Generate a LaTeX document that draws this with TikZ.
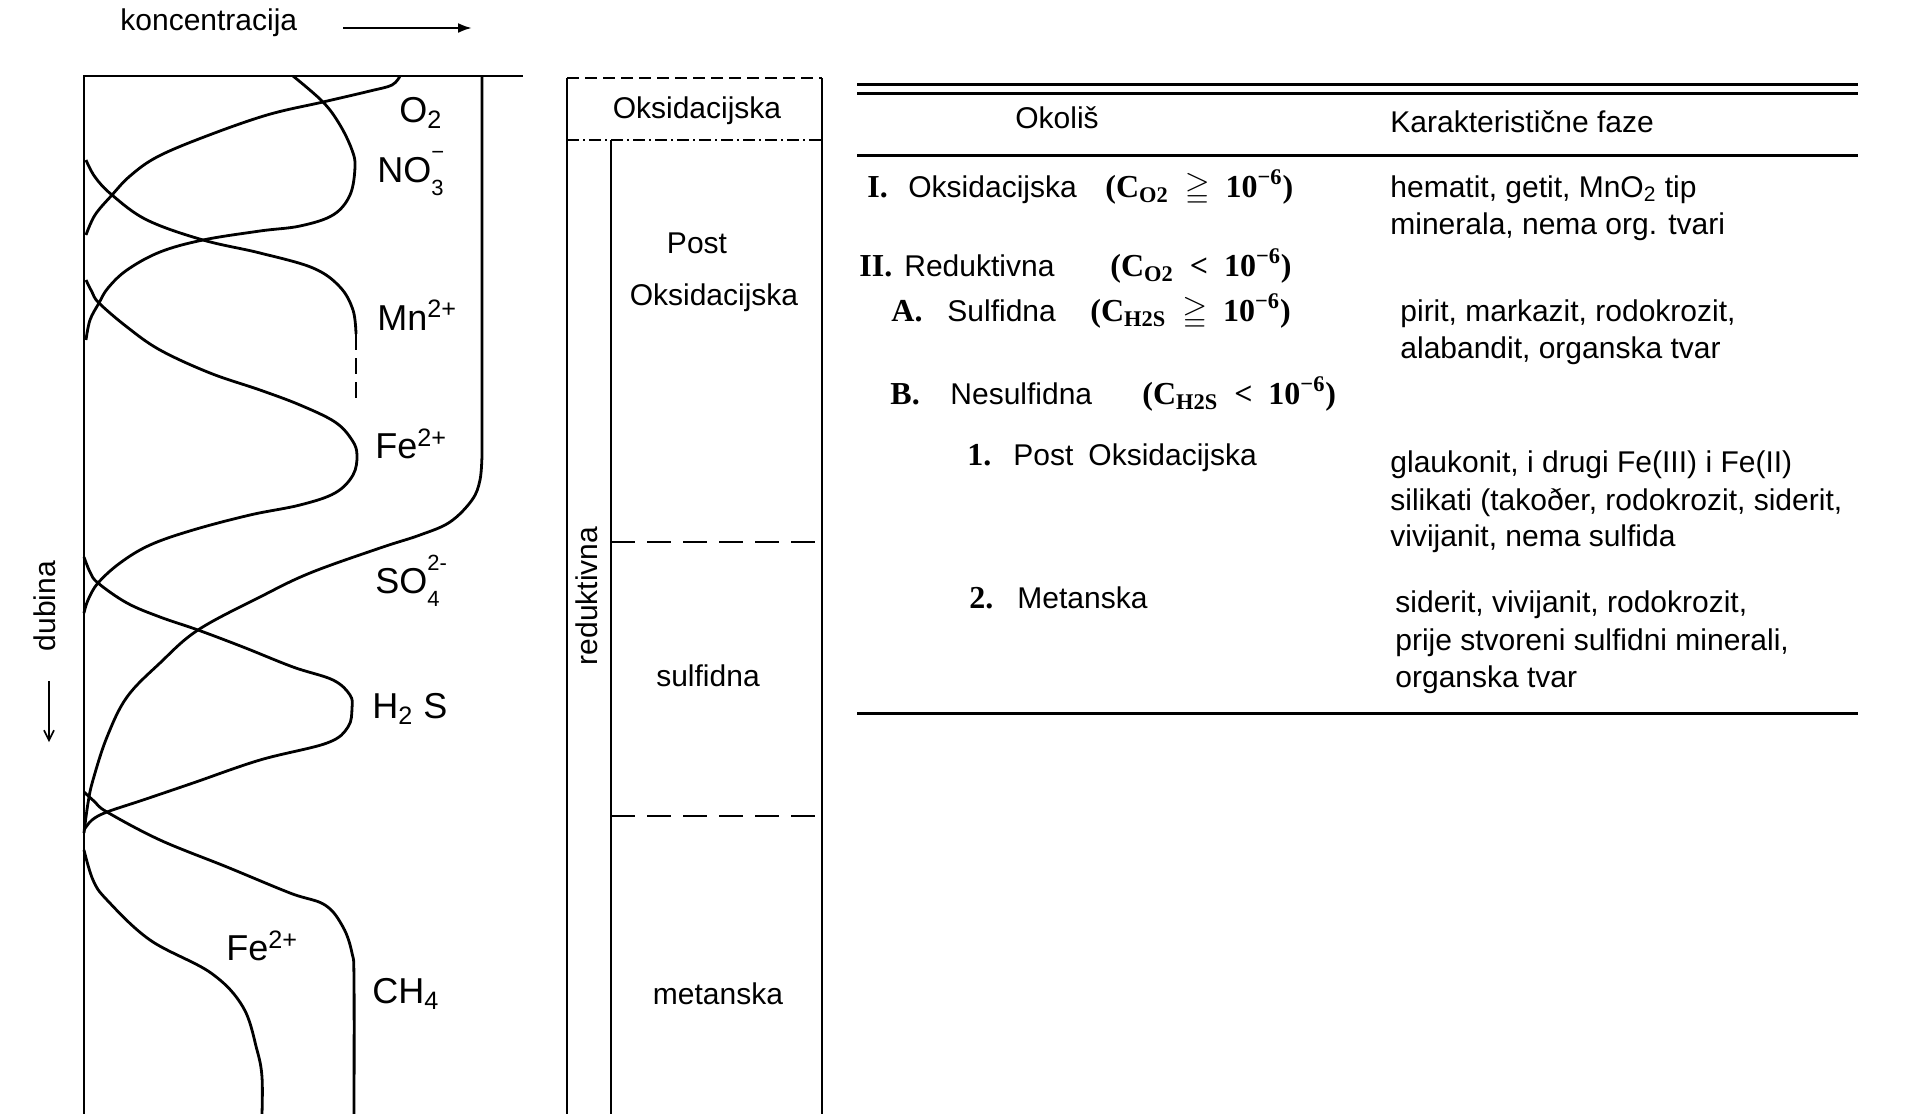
\documentclass[tikz,border=0pt]{standalone}
\usepackage{fontspec}
\usepackage{amssymb}
\setmainfont{Liberation Sans}
\newfontfamily\tnr{Liberation Serif}
\usetikzlibrary{arrows.meta}

\newcommand\chemsup[1]{\rlap{\raisebox{0.62em}{\fontsize{11}{11}\selectfont #1}}}
\newcommand\chemsub[1]{\raisebox{-0.38em}{\fontsize{11}{11}\selectfont #1}}

\begin{document}
\begin{tikzpicture}[x=0.5pt,y=-0.5pt,
    conc/.style={line width=1.4pt,line join=round},
    chem/.style={anchor=west,inner sep=0pt,font=\fontsize{18}{20}\selectfont},
    txt/.style={anchor=base west,inner sep=0pt,font=\fontsize{15}{18.5}\selectfont},
    mid/.style={inner sep=0pt,font=\fontsize{15}{18.5}\selectfont},
    num/.style={anchor=base west,inner sep=0pt,font=\fontsize{16}{18}\tnr\bfseries},
    rule/.style={line width=1.5pt}]

\useasboundingbox (0,0) rectangle (1907,1114);

% concentration profiles
\node[txt] (konc) at (120,30) {koncentracija};
\coordinate (konc-a) at (343,28);
\coordinate (konc-b) at (472,28);
\draw[line width=1.2pt,-{Latex[length=7pt,width=5pt]}] (konc-a) -- (konc-b);

\node[mid,rotate=90] (dubina) at (45,606) {dubina};
\coordinate (dub-a) at (49,681);
\coordinate (dub-b) at (49,742);
\draw[line width=0.8pt,-{Straight Barb[length=5pt,width=5pt]}] (dub-a) -- (dub-b);

\draw[line width=1pt] (84,1114) -- (84,76) -- (523,76);

% O2
\draw[conc] plot[smooth,tension=0.6] coordinates {(400,76) (392,85) (370,91) (323,102) (267,115) (204,137) (157,157) (130,176) (112,195) (95,215) (86,235)};
% NO3
\draw[conc] plot[smooth,tension=0.6] coordinates {(293,76) (323,102) (340,125) (352,150) (355,167) (350,195) (333,215) (300,226) (260,231) (203,240) (160,252) (127,270) (108,288) (99,303) (90,320) (86,340)};
% Mn
\draw[conc] plot[smooth,tension=0.6] coordinates {(86,160) (95,177) (112,195) (147,220) (203,240) (260,253) (313,268) (340,287) (353,310) (356,334)};
\draw[conc,dash pattern=on 8pt off 4pt] (356,334) -- (356,398);
% Fe
\draw[conc] plot[smooth,tension=0.6] coordinates {(86,280) (92,292) (99,303) (127,327) (160,350) (210,373) (260,390) (300,405) (335,422) (352,440) (357,455) (353,475) (335,493) (300,505) (250,515) (193,530) (150,545) (120,563) (98,583) (88,600) (84,613)};
% SO4
\draw[conc] (482,76) -- (482,455) plot[smooth,tension=0.6] coordinates {(482,455) (480,480) (472,500) (450,522) (420,535) (380,548) (310,573) (260,597) (198,630) (160,663) (127,697) (107,737) (93,780) (88,803) (84,833)};
% H2S
\draw[conc] plot[smooth,tension=0.6] coordinates {(84,557) (90,572) (98,583) (127,603) (160,617) (198,630) (243,647) (293,667) (333,680) (350,695) (352,708) (348,727) (327,743) (260,760) (193,783) (143,800) (107,812) (92,820) (84,830)};
% CH4
\draw[conc] plot[smooth,tension=0.6] coordinates {(84,792) (95,802) (107,812) (160,840) (227,867) (290,893) (325,905) (343,927) (352,953) (354,980) (354,1114)};
% Fe lower
\draw[conc] plot[smooth,tension=0.6] coordinates {(84,850) (93,880) (107,900) (150,940) (211,973) (243,1007) (257,1050) (262,1077) (262,1114)};

\node[chem] (o2) at (399,113) {O\textsubscript{2}};
\node[chem] (no3) at (377,174) {NO\chemsup{−}\chemsub{3}};
\node[chem] (mn) at (377,315) {Mn\textsuperscript{2+}};
\node[chem] (fe) at (375,444) {Fe\textsuperscript{2+}};
\node[chem] (so4) at (375,581) {SO\chemsup{2-}\chemsub{4}};
\node[chem] (h2s) at (372,709) {H\textsubscript{2} S};
\node[chem] (fe-low) at (226,946) {Fe\textsuperscript{2+}};
\node[chem] (ch4) at (372,994) {CH\textsubscript{4}};

% environment column
\draw[line width=1.2pt] (567,1114) -- (567,78);
\draw[line width=1.2pt] (822,78) -- (822,1114);
\draw[line width=0.6pt,dash pattern=on 6pt off 3pt] (567,78) -- (822,78);
\draw[line width=0.8pt,dash pattern=on 6pt off 2pt on 1pt off 2pt] (567,140) -- (822,140);
\draw[line width=1.2pt] (611,140) -- (611,1114);
\draw[line width=0.8pt,dash pattern=on 12pt off 6pt] (611,542) -- (822,542);
\draw[line width=0.8pt,dash pattern=on 12pt off 6pt] (611,816) -- (822,816);

\node[mid] (oks) at (697,111) {Oksidacijska};
\node[mid] (post) at (697,243) {Post};
\node[mid] (post-oks) at (714,298) {Oksidacijska};
\node[mid,rotate=90] (reduk) at (587,596) {reduktivna};
\node[mid] (sulf) at (708,676) {sulfidna};
\node[mid] (metan) at (718,994) {metanska};

% table
\draw[rule] (857,84) -- (1858,84);
\draw[rule] (857,93) -- (1858,93);
\draw[rule] (857,155) -- (1858,155);
\draw[rule] (857,713) -- (1858,713);

\node[txt,anchor=base] (okolis) at (1057,128) {Okoliš};
\node[txt] (faze) at (1390,132) {Karakteristične faze};

\node[num] (r1) at (867,197) {I.};
\node[txt] (r1-name) at (908,197) {Oksidacijska};
\node[num] (r1-c) at (1105,197) {(C\textsubscript{O2}\enspace$\geqq$\enspace10\textsuperscript{−6})};
\node[txt] (r1-f1) at (1390,197) {hematit, getit, MnO\textsubscript{2} tip};
\node[txt] (r1-f2) at (1390,234) {minerala, nema org. tvari};

\node[num] (r2) at (859,276) {II.};
\node[txt] (r2-name) at (904,276) {Reduktivna};
\node[num] (r2-c) at (1110,276) {(C\textsubscript{O2}\enspace<\enspace10\textsuperscript{−6})};

\node[num] (ra) at (891,321) {A.};
\node[txt] (ra-name) at (947,321) {Sulfidna};
\node[num] (ra-c) at (1090,321) {(C\textsubscript{H2S}\enspace$\geqq$\enspace10\textsuperscript{−6})};
\node[txt] (ra-f1) at (1400,321) {pirit, markazit, rodokrozit,};
\node[txt] (ra-f2) at (1400,358) {alabandit, organska tvar};

\node[num] (rb) at (890,404) {B.};
\node[txt] (rb-name) at (950,404) {Nesulfidna};
\node[num] (rb-c) at (1142,404) {(C\textsubscript{H2S}\enspace<\enspace10\textsuperscript{−6})};

\node[num] (rb1) at (967,465) {1.};
\node[txt] (rb1-name) at (1013,465) {Post\enspace Oksidacijska};
\node[txt] (rb1-f1) at (1390,472) {glaukonit, i drugi Fe(III) i Fe(II)};
\node[txt] (rb1-f2) at (1390,510) {silikati (takoðer, rodokrozit, siderit,};
\node[txt] (rb1-f3) at (1390,546) {vivijanit, nema sulfida};

\node[num] (rb2) at (969,608) {2.};
\node[txt] (rb2-name) at (1017,608) {Metanska};
\node[txt] (rb2-f1) at (1395,612) {siderit, vivijanit, rodokrozit,};
\node[txt] (rb2-f2) at (1395,650) {prije stvoreni sulfidni minerali,};
\node[txt] (rb2-f3) at (1395,687) {organska tvar};
\end{tikzpicture}
\end{document}
